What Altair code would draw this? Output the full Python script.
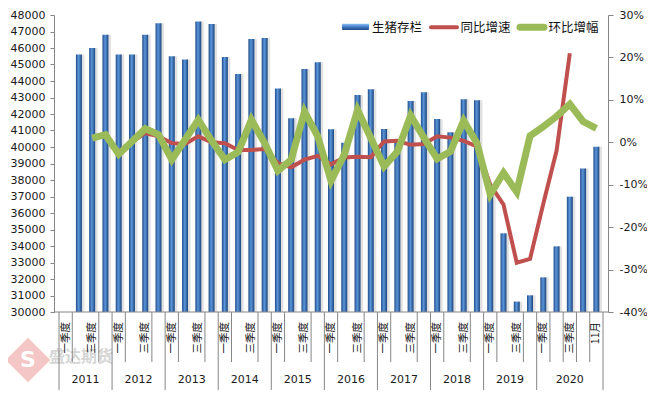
import altair as alt
import pandas as pd

# ---------------- data ----------------
years = ["2011", "2012", "2013", "2014", "2015", "2016", "2017", "2018", "2019", "2020"]
quarters = ["一季度", "二季度", "三季度", "四季度"]
last_year_cats = ["一季度", "二季度", "三季度", "10月", "11月"]

inventory = [None, 45600, 46000, 46800,
             45600, 45600, 46800, 47500,
             45500, 45300, 47600, 47450,
             45450, 44420, 46550, 46600,
             43550, 41740, 44730, 45130,
             41070, 40260, 43150, 43500,
             41090, 40400, 42790, 43320,
             41700, 40890, 42890, 42830,
             37500, 34770, 30630, 31010,
             32100, 33980, 36990, 38690, 40020]

yoy = [None, None, None, None,
       None, 0.0, 2.2, 1.4,
       -0.2, -0.4, 1.4, 0.0,
       -0.2, -1.8, -1.8, -1.6,
       -4.9, -5.9, -4.1, -3.2,
       -5.2, -3.6, -3.4, -3.5,
       0.2, 0.35, -0.6, -0.4,
       1.4, 1.1, 0.35, -1.0,
       -10.0, -14.7, -28.4, -27.5,
       -14.5, -2.0, 21.0, None, None]

qoq = [None, None, 1.0, 1.8,
       -2.8, 0.2, 3.2, 1.8,
       -4.1, 0.6, 5.3, 0.4,
       -4.1, -2.3, 5.3, -0.2,
       -6.7, -4.1, 7.25, 1.4,
       -9.1, -2.9, 7.6, 1.0,
       -5.7, -2.2, 6.3, 1.1,
       -3.9, -2.2, 5.1, -0.2,
       -12.3, -7.2, -11.7, 1.5,
       3.7, 6.1, 9.0, 4.9, 3.3]

left_ticks = list(range(30000, 48001, 1000))
right_ticks = list(range(-40, 31, 10))

# ---------------- build tables ----------------
cat_year, cat_label, pos_in_year = [], [], []
for y in years:
    cats = last_year_cats if y == "2020" else quarters
    for k, c in enumerate(cats):
        cat_year.append(y)
        cat_label.append(c)
        pos_in_year.append(k)
n = len(cat_label)

df = pd.DataFrame({"i": list(range(n)), "label": cat_label, "year": cat_year,
                   "inv": inventory, "yoy": yoy, "qoq": qoq})
df["base"] = 30000

lab_df = pd.DataFrame({"i": [i for i in range(n) if pos_in_year[i] % 2 == 0],
                       "label": [cat_label[i] for i in range(n) if pos_in_year[i] % 2 == 0]})

# year groups
starts, ends = [], []
for y in years:
    idx = [i for i in range(n) if cat_year[i] == y]
    starts.append(idx[0])
    ends.append(idx[-1])
year_df = pd.DataFrame({"c": [(s + e) / 2 for s, e in zip(starts, ends)], "year": years})
long_df = pd.DataFrame({"b": [s - 0.5 for s in starts] + [n - 0.5]})
short_b = []
for y, s, e in zip(years, starts, ends):
    if y == "2020":
        short_b += [b + 0.5 for b in range(s, e)]
    else:
        short_b += [s + 0.5, s + 2.5]
short_df = pd.DataFrame({"b": short_b})
one = pd.DataFrame({"k": [0]})

# ---------------- layout ----------------
W, H = 554, 297
FONT_NUM = "DejaVu Sans"
FONT_CJK = "Noto Sans CJK SC"
RED = "#c0504d"
GREEN = "#9bbb59"
AX = "#868686"

xscale = alt.Scale(domain=[-0.5, n - 0.5], nice=False, zero=False)
xenc = alt.X("i:Q", scale=xscale, axis=None)

bar_grad = alt.Gradient(gradient="linear", x1=0, x2=1, y1=0, y2=0,
                        stops=[alt.GradientStop(color="#224c88", offset=0),
                               alt.GradientStop(color="#5a96db", offset=0.45),
                               alt.GradientStop(color="#1c447c", offset=1)])

left_axis = alt.Axis(orient="left", values=left_ticks, format="d", grid=False,
                     domainColor=AX, tickColor=AX, tickSize=4, labelPadding=5,
                     labelFont=FONT_NUM, labelFontSize=11, labelColor="#1a1a1a", title=None)
right_axis = alt.Axis(orient="right", values=right_ticks, labelExpr="datum.value + '%'", grid=False,
                      domainColor=AX, tickColor=AX, tickSize=5, labelPadding=6,
                      labelFont=FONT_NUM, labelFontSize=11, labelColor="#1a1a1a", title=None)

yinv = alt.Y("inv:Q", scale=alt.Scale(domain=[30000, 48000], nice=False, zero=False), axis=left_axis)

shadow = alt.Chart(df).mark_bar(size=4, xOffset=3.5, color="#d4d4d4", opacity=0.7).encode(
    x=xenc, y=yinv, y2=alt.Y2("base:Q"))
bars = alt.Chart(df).mark_bar(size=6, color=bar_grad).encode(
    x=xenc, y=yinv, y2=alt.Y2("base:Q"))
bar_layer = alt.layer(shadow, bars)

pscale = alt.Scale(domain=[-40, 30], nice=False, zero=False)
red = alt.Chart(df).mark_line(color=RED, strokeWidth=4).encode(
    x=xenc, y=alt.Y("yoy:Q", scale=pscale, axis=right_axis))
green = alt.Chart(df).mark_line(color=GREEN, strokeWidth=7).encode(
    x=xenc, y=alt.Y("qoq:Q", scale=pscale, axis=right_axis))
line_layer = alt.layer(red, green)

# x axis decorations
baseline = alt.Chart(one).mark_rule(color=AX).encode(
    x=alt.value(0), x2=alt.value(W), y=alt.value(H))
long_rules = alt.Chart(long_df).mark_rule(color=AX).encode(
    x=alt.X("b:Q", scale=xscale, axis=None), y=alt.value(H), y2=alt.value(376))
short_rules = alt.Chart(short_df).mark_rule(color=AX).encode(
    x=alt.X("b:Q", scale=xscale, axis=None), y=alt.value(H), y2=alt.value(347))
cat_text = alt.Chart(lab_df).mark_text(angle=270, align="right", baseline="middle",
                                       font=FONT_CJK, fontSize=10.5, color="#111111").encode(
    x=xenc, y=alt.value(307), text="label:N")
year_text = alt.Chart(year_df).mark_text(align="center", baseline="middle",
                                         font=FONT_NUM, fontSize=11, color="#1a1a1a").encode(
    x=alt.X("c:Q", scale=xscale, axis=None), y=alt.value(365), text="year:N")

# watermark
logo = alt.Chart(one).mark_point(shape="square", angle=45, size=1000, filled=True,
                                 color="#f2b8b8", opacity=0.8).encode(
    x=alt.value(-26), y=alt.value(345))
logo_s = alt.Chart(one).mark_text(font=FONT_NUM, fontSize=22, fontWeight="bold", color="white",
                                  align="center", baseline="middle").encode(
    x=alt.value(-26), y=alt.value(345), text=alt.value("S"))
wm = alt.Chart(one).mark_text(font=FONT_CJK, fontSize=16, fontWeight="bold", color="#d6d6d6",
                              align="left", baseline="middle").encode(
    x=alt.value(-5), y=alt.value(342), text=alt.value("盛达期货"))

# legend
leg_grad = alt.Gradient(gradient="linear", x1=0, x2=0, y1=0, y2=1,
                        stops=[alt.GradientStop(color="#8dbcf0", offset=0),
                               alt.GradientStop(color="#3f7cc6", offset=0.5),
                               alt.GradientStop(color="#21497f", offset=1)])
leg_bar = alt.Chart(one).mark_rect(color=leg_grad, cornerRadius=1).encode(
    x=alt.value(288), x2=alt.value(315), y=alt.value(8.8), y2=alt.value(15))
leg_red = alt.Chart(one).mark_rule(color=RED, strokeWidth=4, strokeCap="round").encode(
    x=alt.value(377), x2=alt.value(403), y=alt.value(12.3))
leg_green = alt.Chart(one).mark_rule(color=GREEN, strokeWidth=7, strokeCap="round").encode(
    x=alt.value(466), x2=alt.value(490), y=alt.value(12.3))
leg_txt = [
    alt.Chart(one).mark_text(font=FONT_CJK, fontSize=12.5, color="#111111", align="left",
                             baseline="middle").encode(x=alt.value(xx), y=alt.value(12.5), text=alt.value(t))
    for xx, t in [(318, "生猪存栏"), (406.5, "同比增速"), (494.5, "环比增幅")]
]

main = alt.layer(bar_layer, line_layer).resolve_scale(y="independent")

chart = alt.layer(
    logo, logo_s, wm, main, baseline, long_rules, short_rules, cat_text, year_text,
    leg_bar, leg_red, leg_green, *leg_txt
).properties(
    width=W, height=H,
    padding={"left": 46, "top": 7, "right": 39, "bottom": 78},
    autosize=alt.AutoSizeParams(type="none"),
    background="white",
).configure_view(stroke=None)

chart.save("out.html", embed_options={"renderer": "svg", "actions": False})
